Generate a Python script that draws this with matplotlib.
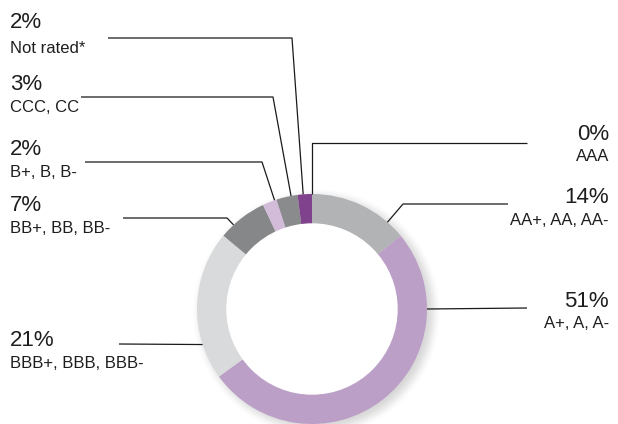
import numpy as np
import matplotlib
matplotlib.use('Agg')
import matplotlib.pyplot as plt

plt.rcParams['font.family'] = ['Liberation Sans', 'DejaVu Sans']

# data, clockwise from 12 o'clock
categories = ['AAA', 'AA+, AA, AA-', 'A+, A, A-', 'BBB+, BBB, BBB-',
              'BB+, BB, BB-', 'B+, B, B-', 'CCC, CC', 'Not rated*']
shares = [0, 14, 51, 21, 7, 2, 3, 2]
colors = ['#9e9fa1', '#b1b3b5', '#bc9fc6', '#d9dadc',
          '#868789', '#d3bcd9', '#8a8b8d', '#80428c']

W, H = 618, 424
cx, cy = 312, H - 309      # donut centre (y measured from bottom)
R, ring = 115, 30

fig = plt.figure(figsize=(W / 100, H / 100), dpi=100)
ax = fig.add_axes([0, 0, 1, 1])

# soft drop shadow to the lower right
yy, xx = np.mgrid[0:H, 0:W]
d = np.hypot(xx - (cx + 4), (H - yy) - (cy - 3))
t = np.clip((d - (R - 6)) / 16, 0, 1)
alpha = 0.28 * (1 - t * t * (3 - 2 * t))
shadow = np.zeros((H, W, 4))
shadow[..., :3] = 0.45
shadow[..., 3] = alpha
ax.imshow(shadow, extent=[0, W, 0, H], zorder=0, interpolation='bilinear')

wedges, _ = ax.pie(shares, colors=colors, startangle=90, counterclock=False,
                   radius=R, center=(cx, cy),
                   wedgeprops=dict(width=ring, linewidth=0), frame=True)
for w in wedges:
    w.set_zorder(2)
ax.add_patch(plt.Circle((cx, cy), R - ring, color='white', zorder=2))
ax.set_xlim(0, W)
ax.set_ylim(0, H)
ax.set_aspect('equal')
ax.axis('off')

# leader lines: anchor angle on the ring, then elbow and end (pixels from top)
leaders = {
    'AAA': (90, [(312, 143), (527, 143)]),
    'AA+, AA, AA-': (49, [(403, 204), (508, 204)]),
    'A+, A, A-': (0, [(527, 308)]),
    'BBB+, BBB, BBB-': (198, [(119, 344)]),
    'BB+, BB, BB-': (133, [(227, 218), (123, 218)]),
    'B+, B, B-': (109, [(262, 162), (85, 162)]),
    'CCC, CC': (100.5, [(273, 97), (81, 97)]),
    'Not rated*': (94.4, [(292, 38), (108, 38)]),
}
for cat, (ang, pts) in leaders.items():
    a = np.radians(ang)
    xs = [cx + R * np.cos(a)] + [p[0] for p in pts]
    ys = [cy + R * np.sin(a)] + [H - p[1] for p in pts]
    ax.plot(xs, ys, color='#1a1a1a', lw=0.9, zorder=3, solid_capstyle='butt')

# labels: (x, baseline of percent, baseline of name, alignment)
label_pos = {
    'Not rated*': (10, 28, 53, 'left'),
    'CCC, CC': (10, 90, 112, 'left'),
    'B+, B, B-': (10, 155, 177, 'left'),
    'BB+, BB, BB-': (10, 211, 233, 'left'),
    'BBB+, BBB, BBB-': (10, 346, 368, 'left'),
    'AAA': (609, 140, 161, 'right'),
    'AA+, AA, AA-': (609, 203, 225, 'right'),
    'A+, A, A-': (609, 307, 328, 'right'),
}
for cat, val in zip(categories, shares):
    x, yp, yn, ha = label_pos[cat]
    ax.text(x, H - yp, f'{val}%', fontsize=16, ha=ha, va='baseline',
            color='#1e1e1e')
    ax.text(x, H - yn, cat, fontsize=12, ha=ha, va='baseline',
            color='#1e1e1e')

fig.savefig('out.png', dpi=100)
